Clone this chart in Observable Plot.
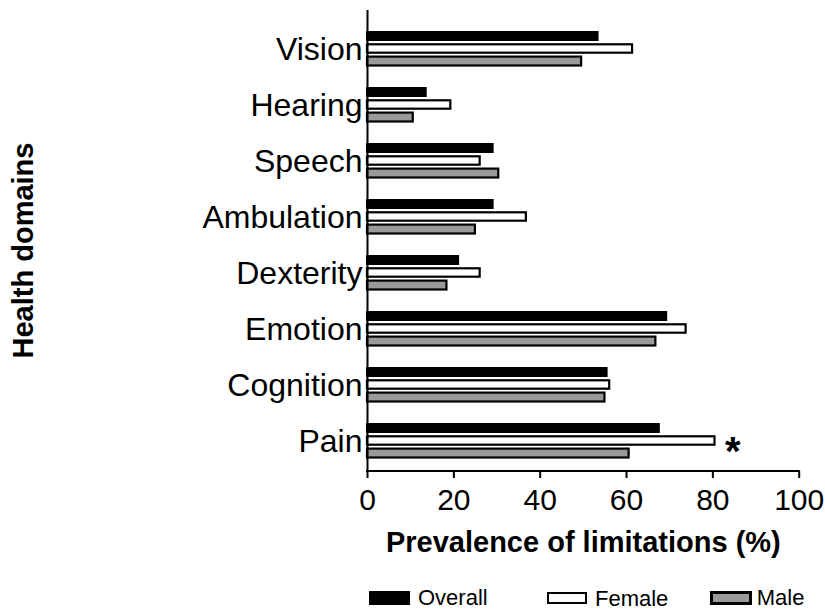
<!DOCTYPE html>
<html><head><meta charset="utf-8">
<script src="https://cdn.jsdelivr.net/npm/d3@7"></script>
<script src="https://cdn.jsdelivr.net/npm/@observablehq/plot@0.6"></script>
<style>
body{margin:0;background:#fff;font-family:"Liberation Sans",Arial,sans-serif;}
#wrap{position:relative;width:825px;height:612px;overflow:hidden;}
#legend{position:absolute;left:0;top:575px;width:825px;height:37px;}
.sw{position:absolute;box-sizing:border-box;}
.lt{position:absolute;font-size:22px;line-height:22px;color:#000;white-space:nowrap;}
</style></head><body><div id="wrap"><div id="chart"></div><div id="legend"></div></div>
<script>
const domains = ["Vision","Hearing","Speech","Ambulation","Dexterity","Emotion","Cognition","Pain"];
const series = ["Overall","Female","Male"];
const overall = [53.4, 13.6, 29.1, 29.1, 21.1, 69.3, 55.5, 67.6];
const female  = [61.4, 19.3, 26.1, 36.8, 26.1, 73.8, 56.1, 80.5];
const male    = [49.6, 10.6, 30.4, 25.0, 18.4, 66.8, 55.0, 60.6];
const xTicks = [0, 20, 40, 60, 80, 100];
const xTitle = "Prevalence of limitations (%)";
const yTitle = "Health domains";
const annotations = [{domain: "Pain", series: "Female", label: "*"}];

const rows = (vals, s) => domains.map((d, i) => ({domain: d, series: s, value: vals[i]}));
const rowsO = rows(overall, series[0]);
const rowsF = rows(female, series[1]);
const rowsM = rows(male, series[2]);
const seriesValues = {Overall: overall, Female: female, Male: male};

const fills = {Overall: "#000", Female: "#fff", Male: "#9a9a9a"};

const xAxisLine = (index, scales, values, dims) => {
  const y = dims.height - dims.marginBottom;
  const g = d3.create("svg:g");
  g.append("line")
    .attr("x1", scales.x(xTicks[0]) - 1).attr("x2", scales.x(xTicks[xTicks.length - 1]) + 1)
    .attr("y1", y).attr("y2", y)
    .attr("stroke", "#000").attr("stroke-width", 2);
  return g.node();
};

const chart = Plot.plot({
  width: 825, height: 575,
  marginLeft: 367, marginRight: 26.3, marginTop: 10, marginBottom: 104,
  style: {fontFamily: '"Liberation Sans", Arial, sans-serif', background: "white", color: "black", overflow: "visible"},
  x: {domain: [0, 100]},
  y: {domain: domains, paddingInner: 0.35, paddingOuter: 0.22, align: 0.64},
  marks: [
    Plot.barX(rowsO, {x: "value", y: "domain", fill: fills.Overall, stroke: "#000", strokeWidth: 2, insetTop: 1, insetBottom: 27}),
    Plot.barX(rowsF, {x: "value", y: "domain", fill: fills.Female, stroke: "#000", strokeWidth: 2.2, insetTop: 13.3, insetBottom: 14.3}),
    Plot.barX(rowsM, {x: "value", y: "domain", fill: fills.Male, stroke: "#000", strokeWidth: 2.2, insetTop: 25.6, insetBottom: 1.5}),
    Plot.ruleX([0], {stroke: "#000", strokeWidth: 2}),
    xAxisLine,
    Plot.axisX({ticks: xTicks, tickSize: 7, tickPadding: 10, fontSize: 30, strokeWidth: 2, label: null, tickFormat: d => String(d)}),
    Plot.axisY({tickSize: 0, tickPadding: 5, fontSize: 32, label: null}),
    Plot.text([xTitle], {text: d => d, frameAnchor: "bottom", dy: 71.4, fontSize: 29, fontWeight: "bold", textAnchor: "middle", lineAnchor: "middle"}),
    Plot.text([yTitle], {text: d => d, frameAnchor: "left", rotate: -90, dx: -343.3, dy: 9.5, fontSize: 29, fontWeight: "bold", textAnchor: "middle", lineAnchor: "middle"}),
    Plot.text(annotations, {x: d => seriesValues[d.series][domains.indexOf(d.domain)], y: "domain", text: "label", dx: 10, dy: 10.8, textAnchor: "start", lineAnchor: "middle", fontSize: 40, fontWeight: "bold"})
  ]
});
document.getElementById("chart").appendChild(chart);

// legend
const legend = document.getElementById("legend");
const legendItems = [
  {s: series[0], sx: 369, sy: 16, sw: 41, sh: 14, border: 0, tx: 418, ty: 12.1},
  {s: series[1], sx: 546.7, sy: 17, sw: 40, sh: 12, border: 2.5, tx: 595, ty: 13.4},
  {s: series[2], sx: 710, sy: 16, sw: 41.7, sh: 14, border: 3, tx: 756.7, ty: 12.4}
];
for (const it of legendItems) {
  const sw = document.createElement("div");
  sw.className = "sw";
  Object.assign(sw.style, {left: it.sx + "px", top: it.sy + "px", width: it.sw + "px", height: it.sh + "px",
    background: fills[it.s], border: it.border ? it.border + "px solid #000" : "none"});
  legend.appendChild(sw);
  const t = document.createElement("div");
  t.className = "lt";
  t.textContent = it.s;
  Object.assign(t.style, {left: it.tx + "px", top: it.ty + "px"});
  legend.appendChild(t);
}
</script>
</body></html>
